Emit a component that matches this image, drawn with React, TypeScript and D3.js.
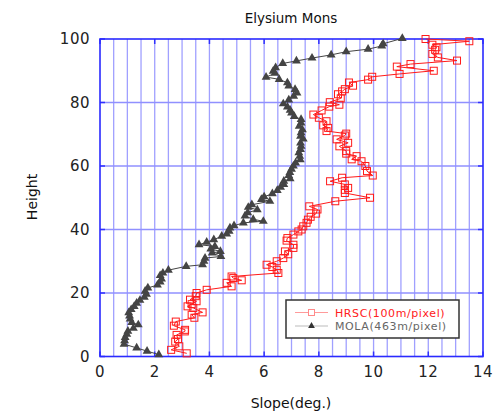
import React from 'react';
import * as d3 from 'd3';

const hrscHeight = [100.0, 99.3, 98.2, 97.4, 96.6, 95.3, 94.2, 93.2, 92.1, 91.3, 90.0, 89.0, 88.1, 87.2, 86.3, 85.3, 84.2, 83.5, 82.6, 81.3, 80.1, 79.3, 78.7, 77.5, 76.2, 75.2, 74.1, 72.8, 72.0, 71.0, 70.2, 69.6, 68.4, 67.3, 66.2, 64.7, 63.9, 63.1, 62.1, 61.5, 60.0, 58.4, 57.0, 56.3, 55.2, 54.2, 53.1, 52.5, 51.5, 50.0, 48.9, 47.3, 46.3, 45.0, 44.0, 43.1, 42.1, 41.0, 40.0, 39.4, 38.4, 37.3, 36.5, 35.2, 34.2, 33.1, 32.2, 31.0, 30.0, 28.9, 28.2, 27.3, 26.3, 25.2, 24.7, 24.0, 23.2, 22.1, 21.0, 20.0, 19.0, 17.9, 17.4, 16.5, 15.8, 15.3, 13.9, 13.2, 12.2, 11.0, 9.7, 8.4, 7.9, 6.8, 5.5, 4.7, 3.2, 2.1, 1.0];
const hrscSlope = [11.9, 13.5, 12.15, 12.3, 12.25, 12.15, 12.35, 13.05, 11.35, 10.85, 12.2, 10.95, 9.95, 9.8, 9.1, 9.25, 8.95, 8.85, 8.7, 8.8, 8.4, 8.75, 8.38, 8.1, 7.8, 8.0, 8.28, 8.16, 8.34, 8.28, 9.0, 8.95, 8.65, 9.07, 8.75, 9.0, 9.0, 9.38, 9.2, 9.56, 9.7, 9.76, 9.97, 8.85, 8.41, 8.95, 9.07, 8.95, 8.95, 9.87, 8.6, 7.65, 7.95, 7.9, 7.7, 7.6, 7.55, 7.43, 7.37, 7.25, 7.07, 6.85, 6.82, 7.07, 7.07, 6.76, 6.88, 6.7, 6.46, 6.09, 6.3, 6.46, 6.52, 4.81, 4.87, 5.18, 4.63, 4.81, 3.9, 3.53, 3.5, 3.29, 3.53, 3.35, 3.2, 3.41, 3.75, 3.35, 3.45, 2.77, 2.7, 3.11, 3.1, 2.8, 2.85, 2.75, 2.9, 2.6, 3.17];

const molaHeight = [100.2, 98.5, 97.8, 96.8, 96.0, 95.0, 94.0, 93.1, 92.3, 91.0, 89.9, 89.2, 88.0, 87.3, 86.2, 85.2, 84.1, 83.0, 82.0, 80.8, 79.6, 78.6, 77.6, 76.7, 75.6, 74.7, 73.6, 72.5, 71.4, 70.5, 69.4, 68.5, 67.3, 66.2, 65.2, 64.2, 63.1, 62.0, 61.0, 60.0, 59.0, 58.0, 57.0, 56.0, 55.2, 54.2, 53.3, 52.3, 51.3, 50.3, 49.5, 48.9, 47.8, 47.0, 46.2, 45.3, 44.3, 43.2, 42.6, 42.1, 41.2, 40.5, 39.5, 38.6, 37.9, 36.8, 36.0, 35.2, 34.7, 33.9, 33.1, 32.6, 31.5, 31.0, 30.0, 28.9, 28.4, 27.2, 26.3, 25.5, 24.4, 23.5, 22.5, 21.6, 20.6, 19.6, 18.7, 17.7, 16.8, 15.8, 14.8, 13.8, 12.8, 11.8, 10.7, 10.0, 8.9, 8.0, 7.0, 6.0, 5.0, 3.9, 2.7, 1.7, 0.6];
const molaSlope = [11.05, 10.35, 10.3, 9.8, 9.0, 8.45, 7.75, 7.18, 6.68, 6.42, 6.33, 6.4, 6.07, 6.55, 6.85, 6.9, 7.13, 7.2, 7.08, 6.9, 6.7, 6.85, 6.95, 7.0, 7.1, 7.35, 7.35, 7.28, 7.4, 7.35, 7.33, 7.43, 7.33, 7.35, 7.33, 7.27, 7.3, 7.32, 7.15, 7.07, 7.0, 6.94, 6.9, 6.95, 6.72, 6.72, 6.6, 6.48, 6.3, 6.0, 5.9, 6.21, 5.55, 5.42, 5.75, 5.4, 5.3, 5.6, 5.97, 5.24, 4.9, 4.75, 4.72, 4.63, 4.45, 4.16, 3.9, 3.62, 4.2, 4.05, 4.4, 4.1, 4.42, 3.84, 3.8, 3.75, 3.15, 2.5, 2.3, 2.2, 2.25, 2.2, 2.1, 1.75, 1.65, 1.7, 1.62, 1.46, 1.34, 1.25, 1.14, 1.05, 1.08, 1.1, 1.16, 1.4, 1.22, 1.02, 0.98, 0.92, 0.9, 0.88, 1.34, 1.72, 2.15];

const xTicks = [0, 2, 4, 6, 8, 10, 12, 14];
const yTicks = [0, 20, 40, 60, 80, 100];
const seriesNames = ['HRSC(100m/pixel)', 'MOLA(463m/pixel)'];

export default function App() {
  const W = 493, H = 414;
  const x = d3.scaleLinear().domain([0, 14]).range([100, 483]);
  const y = d3.scaleLinear().domain([0, 100]).range([356.5, 39]);
  const hrsc: [number, number][] = hrscSlope.map((s, i) => [s, hrscHeight[i]]);
  const mola: [number, number][] = molaSlope.map((s, i) => [s, molaHeight[i]]);
  const line = d3.line<[number, number]>().x(d => x(d[0])).y(d => y(d[1]));
  const tri = d3.symbol(d3.symbolTriangle, 34)() as string;
  const triSmall = d3.symbol(d3.symbolTriangle, 20)() as string;
  const minorX = d3.range(1, 28).map(i => i * 0.5);
  const font = '"DejaVu Sans", sans-serif';
  const [x0, x1] = x.range();
  const [yb, yt] = y.range();

  return (
    <svg width={W} height={H} style={{ position: 'absolute', left: 0, top: 0, background: '#fff' }}>
      <rect x={0} y={0} width={W} height={H} fill="#fff" />
      {/* grid */}
      {minorX.map(v => (
        <line key={'gx' + v} x1={x(v)} x2={x(v)} y1={yt} y2={yb} stroke="#a0a0ff" strokeWidth={1.3} />
      ))}
      {yTicks.slice(1, -1).map(v => (
        <line key={'gy' + v} x1={x0} x2={x1} y1={y(v)} y2={y(v)} stroke="#9090ff" strokeWidth={1.5} />
      ))}
      {/* ticks */}
      {xTicks.map(v => (
        <g key={'tx' + v}>
          <line x1={x(v)} x2={x(v)} y1={yb} y2={yb - 5} stroke="#3030ff" strokeWidth={1.5} />
          <line x1={x(v)} x2={x(v)} y1={yt} y2={yt + 5} stroke="#3030ff" strokeWidth={1.5} />
        </g>
      ))}
      {yTicks.map(v => (
        <g key={'ty' + v}>
          <line x1={x0} x2={x0 + 5} y1={y(v)} y2={y(v)} stroke="#3030ff" strokeWidth={1.5} />
          <line x1={x1} x2={x1 - 5} y1={y(v)} y2={y(v)} stroke="#3030ff" strokeWidth={1.5} />
        </g>
      ))}
      <rect x={x0} y={yt} width={x1 - x0} height={yb - yt} fill="none" stroke="#2a2aff" strokeWidth={1.6} />

      {/* MOLA */}
      <path d={line(mola) as string} fill="none" stroke="#444" strokeWidth={1} />
      {mola.map((d, i) => (
        <path key={'m' + i} d={tri} transform={`translate(${x(d[0])},${y(d[1])})`} fill="#444" />
      ))}
      {/* HRSC */}
      <path d={line(hrsc) as string} fill="none" stroke="#ff1a1a" strokeWidth={1} />
      {hrsc.map((d, i) => (
        <rect key={'h' + i} x={x(d[0]) - 3.5} y={y(d[1]) - 3.5} width={7} height={7} fill="none" stroke="#ff1a1a" strokeWidth={1} />
      ))}

      {/* axis labels */}
      {xTicks.map(v => (
        <text key={'lx' + v} x={x(v)} y={377} textAnchor="middle" fontFamily={font} fontSize={15} fill="#222" letterSpacing={0.5}>{v}</text>
      ))}
      {yTicks.map(v => (
        <text key={'ly' + v} x={90} y={y(v) + 5} textAnchor="end" fontFamily={font} fontSize={15} fill="#222" letterSpacing={0.5}>{v}</text>
      ))}
      <text x={291} y={23} textAnchor="middle" fontFamily={font} fontSize={13.5} fill="#111">Elysium Mons</text>
      <text x={291} y={408} textAnchor="middle" fontFamily={font} fontSize={14} fill="#111">Slope(deg.)</text>
      <text transform="translate(37,197) rotate(-90)" textAnchor="middle" fontFamily={font} fontSize={14} fill="#111">Height</text>

      {/* legend */}
      <rect x={286} y={300} width={173} height={38} fill="#fff" stroke="#333" strokeWidth={1.5} />
      <line x1={295} x2={328} y1={312.5} y2={312.5} stroke="#ff9a9a" strokeWidth={1} />
      <rect x={308.5} y={309.5} width={6} height={6} fill="#fff" stroke="#ff8a8a" strokeWidth={1} />
      <text x={335} y={316.5} fontFamily={font} fontSize={11} fill="#ff2020" letterSpacing={0.6}>{seriesNames[0]}</text>
      <line x1={295} x2={328} y1={326} y2={326} stroke="#bbb" strokeWidth={1} />
      <path d={triSmall} transform="translate(311.5,326)" fill="#333" />
      <text x={335} y={330} fontFamily={font} fontSize={11} fill="#666" letterSpacing={0.6}>{seriesNames[1]}</text>
    </svg>
  );
}
